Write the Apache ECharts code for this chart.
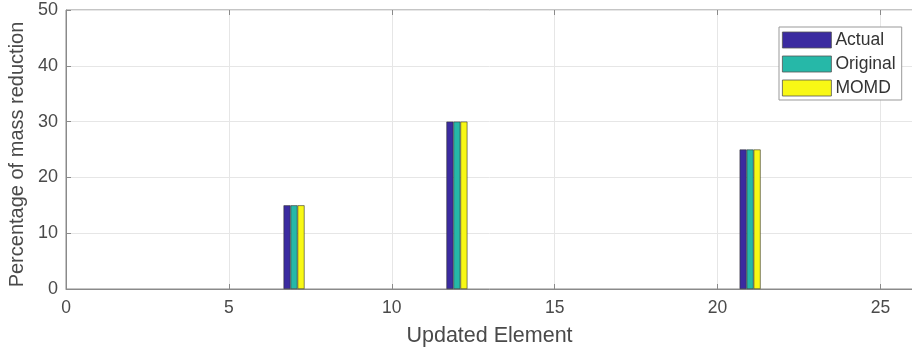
<!DOCTYPE html>
<html>
<head>
<meta charset="utf-8">
<script src="https://cdn.jsdelivr.net/npm/echarts@6/dist/echarts.min.js"></script>
<style>html,body{margin:0;padding:0;background:#fff}#c{width:912px;height:353px}</style>
</head>
<body>
<div id="c"></div>
<script>
var elements = [7, 12, 21];
var actual = [15, 30, 25];
var original = [15, 30, 25];
var momd = [15, 30, 25];
var seriesNames = ['Actual', 'Original', 'MOMD'];
var colors = ['#3b2ba0', '#26b8a8', '#f8f815'];

function pairs(vals) { return elements.map(function (e, i) { return [e, vals[i]]; }); }

var chart = echarts.init(document.getElementById('c'));
var font = '"Liberation Sans", Arial, sans-serif';
var txt = '#4a4a4a';
var mk = function (name, vals, color) {
  return {
    name: name, type: 'bar', data: pairs(vals), barWidth: 7, barGap: '0%',
    itemStyle: { color: color, borderColor: '#333', borderWidth: 0.6 }
  };
};
chart.setOption({
  animation: false,
  textStyle: { fontFamily: font },
  grid: { left: 66, right: -1, top: 10, bottom: 64, show: true, borderColor: '#8a8a8a', borderWidth: 1, outerBoundsMode: 'none', containLabel: false },
  legend: {
    orient: 'vertical', left: 779, top: 27, padding: [4, 6, 3, 3],
    icon: 'rect', itemWidth: 49, itemHeight: 16, itemGap: 6,
    borderColor: '#999', borderWidth: 1, backgroundColor: '#fff',
    itemStyle: { borderColor: '#555', borderWidth: 0.8 },
    textStyle: { fontSize: 17.5, lineHeight: 16, color: '#333', fontFamily: font, padding: [0, 0, 0, -1] },
    data: seriesNames
  },
  xAxis: [{
    type: 'value', min: 0, max: 26, interval: 5,
    name: 'Updated Element', nameLocation: 'middle', nameGap: 36,
    nameTextStyle: { fontSize: 21.5, color: txt },
    axisLine: { show: true, lineStyle: { color: '#8a8a8a' } },
    axisTick: { show: true, inside: true, length: 5, lineStyle: { color: '#8a8a8a' } },
    axisLabel: { fontSize: 17.5, color: txt, margin: 10, showMaxLabel: false },
    splitLine: { show: true, lineStyle: { color: '#e6e6e6' } }
  }, {
    type: 'value', position: 'top', min: 0, max: 26, interval: 5,
    axisLine: { show: false },
    axisTick: { show: true, inside: true, length: 5, lineStyle: { color: '#8a8a8a' } },
    axisLabel: { show: false }, splitLine: { show: false }
  }],
  yAxis: {
    type: 'value', min: 0, max: 50, interval: 10,
    name: 'Percentage of mass reduction', nameLocation: 'middle', nameGap: 29,
    nameTextStyle: { fontSize: 20, color: txt, padding: [0, 10, 0, 0] },
    axisLine: { show: true, lineStyle: { color: '#8a8a8a' } },
    axisTick: { show: true, inside: true, length: 5, lineStyle: { color: '#8a8a8a' } },
    axisLabel: { fontSize: 18, color: txt, margin: 8 },
    splitLine: { show: true, lineStyle: { color: '#e6e6e6' } }
  },
  series: [mk(seriesNames[0], actual, colors[0]), mk(seriesNames[1], original, colors[1]), mk(seriesNames[2], momd, colors[2])]
});
</script>
</body>
</html>
